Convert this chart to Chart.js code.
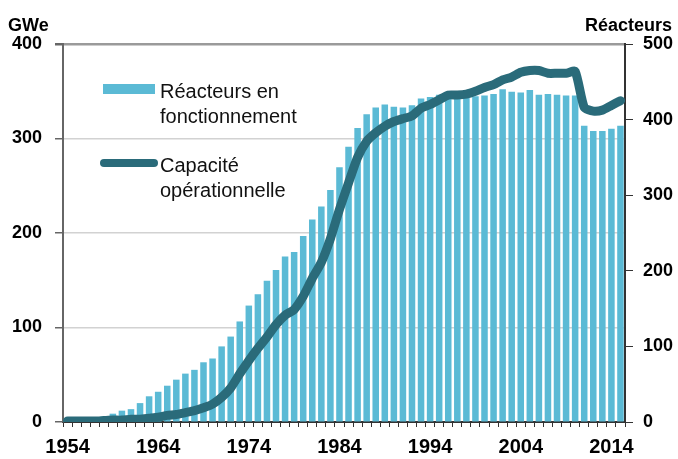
<!DOCTYPE html>
<html>
<head>
<meta charset="utf-8">
<script src="https://cdn.jsdelivr.net/npm/chart.js@4.4.0/dist/chart.umd.min.js"></script>
<style>
body { margin: 0; background: #fff; }
#wrap { position: relative; width: 678px; height: 459px; font-family: "Liberation Sans", Arial, sans-serif; }
#myChart { position: absolute; left: 0; top: 0; }
.titre { position: absolute; font-weight: bold; font-size: 18px; line-height: 20px; color: #000; }
.leg { position: absolute; font-size: 20px; line-height: 25px; color: #111; white-space: nowrap; }
.sw { position: absolute; }
</style>
</head>
<body>
<div id="wrap">
  <canvas id="myChart" width="678" height="459"></canvas>
  <div class="titre" style="left:8px; top:15px;">GWe</div>
  <div class="titre" style="right:6px; top:15px;">Réacteurs</div>
  <div class="sw" style="left:103px; top:84px; width:52px; height:10px; background:#5BBAD5;"></div>
  <div class="leg" style="left:160px; top:79px;">Réacteurs en<br>fonctionnement</div>
  <div class="sw" style="left:100px; top:159px; width:58px; height:8px; border-radius:4px; background:#2A6B7A;"></div>
  <div class="leg" style="left:160px; top:153px;">Capacité<br>opérationnelle</div>
</div>
<script>
var annees = ['1954','1955','1956','1957','1958','1959','1960','1961','1962','1963',
              '1964','1965','1966','1967','1968','1969','1970','1971','1972','1973',
              '1974','1975','1976','1977','1978','1979','1980','1981','1982','1983',
              '1984','1985','1986','1987','1988','1989','1990','1991','1992','1993',
              '1994','1995','1996','1997','1998','1999','2000','2001','2002','2003',
              '2004','2005','2006','2007','2008','2009','2010','2011','2012','2013',
              '2014','2015'];

// reacteurs en fonctionnement (axe droit)
var reacteurs = [1, 1, 2, 4, 7, 11, 15, 17, 25, 34,
                 40, 48, 56, 64, 69, 79, 84, 100, 113, 133,
                 154, 169, 187, 201, 219, 225, 246, 268, 285, 307,
                 337, 364, 389, 407, 416, 420, 417, 416, 419, 428,
                 430, 433, 435, 435, 432, 431, 432, 434, 440, 437,
                 436, 439, 433, 434, 433, 432, 432, 392, 385, 385,
                 388, 392];

// capacite operationnelle en GWe (axe gauche)
var capacite = [1, 1, 1, 1, 1.5, 2, 2, 3, 3, 4,
                5, 7, 8, 10, 12, 15, 19, 26, 36, 51,
                65, 78, 90, 103, 113, 119, 133, 152, 169, 194,
                225, 253, 280, 297, 306, 313, 318, 321, 324, 332,
                336, 341, 346, 346, 347, 350, 354, 357, 362, 365,
                370, 372, 372, 369, 369, 369, 371, 333, 329, 330,
                335, 340];

var etiquettes_x = ['1954','1964','1974','1984','1994','2004','2014'];

var police = '"Liberation Sans", Arial, sans-serif';

var ctx = document.getElementById("myChart");
var myChart = new Chart(ctx, {
  data: {
    labels: annees,
    datasets: [
      {
        type: 'line',
        label: 'Capacité opérationnelle',
        data: capacite,
        yAxisID: 'y',
        borderColor: '#2A6B7A',
        backgroundColor: '#2A6B7A',
        borderWidth: 9,
        pointRadius: 0,
        tension: 0.2,
        borderCapStyle: 'round',
        borderJoinStyle: 'round',
        fill: false,
        order: 0
      },
      {
        type: 'bar',
        label: 'Réacteurs en fonctionnement',
        data: reacteurs,
        yAxisID: 'y1',
        backgroundColor: '#5BBAD5',
        barPercentage: 0.72,
        categoryPercentage: 1.0,
        order: 1
      }
    ]
  },
  options: {
    responsive: false,
    devicePixelRatio: 1,
    animation: false,
    layout: { padding: { top: 44, left: 0, right: 0, bottom: 0 } },
    plugins: { legend: { display: false }, tooltip: { enabled: false } },
    scales: {
      x: {
        type: 'category',
        offset: true,
        grid: { display: true, drawOnChartArea: false, offset: true, tickLength: 5, color: '#333', lineWidth: 1 },
        border: { display: true, color: '#333', width: 2 },
        ticks: {
          autoSkip: false, maxRotation: 0, minRotation: 0, padding: 8, color: '#000',
          font: { family: police, size: 20, weight: 'bold' },
          callback: function(val) {
            var l = this.getLabelForValue(val);
            return etiquettes_x.indexOf(l) >= 0 ? l : '';
          }
        },
        afterFit: function(s) { s.height = 37; }
      },
      y: {
        position: 'left',
        min: 0, max: 400,
        ticks: { stepSize: 100, padding: 13, color: '#000', font: { family: police, size: 18, weight: 'bold' } },
        grid: {
          color: function(c) { return c.tick && c.tick.value === 400 ? '#9a9a9a' : '#d2d2d2'; },
          lineWidth: function(c) { return c.tick && c.tick.value === 400 ? 2.5 : 1.5; },
          tickColor: '#666', tickLength: 8
        },
        border: { color: '#666', width: 2 },
        afterFit: function(s) { s.width = 63; }
      },
      y1: {
        position: 'right',
        min: 0, max: 500,
        ticks: { stepSize: 100, padding: 10, color: '#000', font: { family: police, size: 18, weight: 'bold' } },
        grid: { drawOnChartArea: false, tickLength: 8, tickColor: '#333' },
        border: { color: '#333', width: 2 },
        afterFit: function(s) { s.width = 53; }
      }
    }
  }
});
</script>
</body>
</html>
